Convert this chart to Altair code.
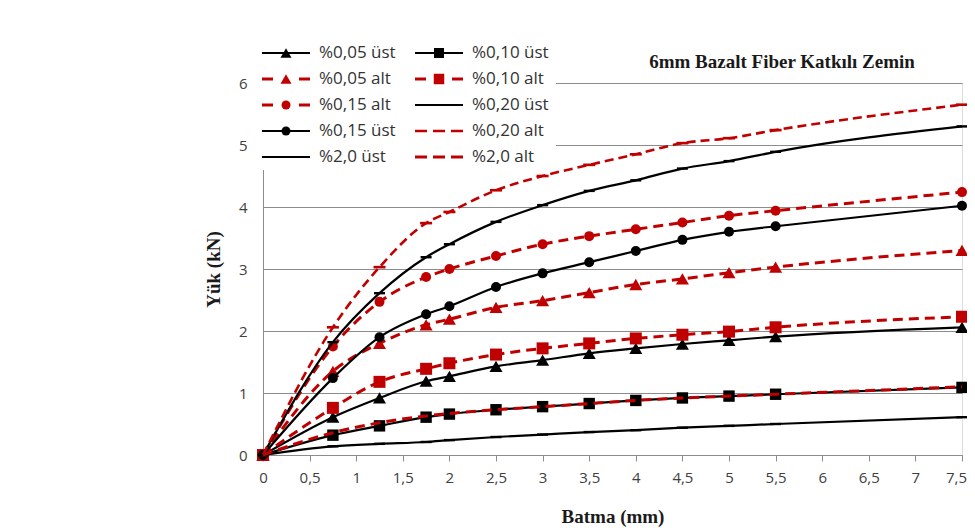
import altair as alt
import pandas as pd

# ---- data ----
x_batma = [0, 0.75, 1.25, 1.75, 2, 2.5, 3, 3.5, 4, 4.5, 5, 5.5, 7.5]

y_005_ust = [0, 0.61, 0.92, 1.19, 1.27, 1.43, 1.53, 1.64, 1.72, 1.79, 1.85, 1.91, 2.06]
y_010_ust = [0, 0.32, 0.47, 0.61, 0.66, 0.73, 0.78, 0.83, 0.88, 0.92, 0.95, 0.98, 1.09]
y_005_alt = [0, 1.35, 1.80, 2.10, 2.19, 2.38, 2.49, 2.62, 2.75, 2.84, 2.94, 3.03, 3.30]
y_010_alt = [0, 0.76, 1.18, 1.39, 1.48, 1.62, 1.72, 1.80, 1.88, 1.94, 1.99, 2.06, 2.23]
y_015_alt = [0, 1.75, 2.47, 2.87, 3.00, 3.21, 3.40, 3.53, 3.64, 3.75, 3.86, 3.94, 4.24]
y_020_ust = [0, 1.82, 2.61, 3.19, 3.40, 3.76, 4.03, 4.26, 4.43, 4.62, 4.74, 4.89, 5.30]
y_015_ust = [0, 1.24, 1.90, 2.27, 2.40, 2.71, 2.93, 3.11, 3.29, 3.47, 3.60, 3.69, 4.02]
y_020_alt = [0, 2.06, 3.03, 3.74, 3.92, 4.27, 4.50, 4.68, 4.85, 5.03, 5.11, 5.24, 5.65]
y_20_ust = [0, 0.14, 0.18, 0.21, 0.24, 0.29, 0.33, 0.37, 0.40, 0.44, 0.47, 0.50, 0.61]
y_20_alt = [0, 0.36, 0.52, 0.63, 0.67, 0.73, 0.78, 0.83, 0.88, 0.92, 0.95, 0.98, 1.10]

series_names = ["%0,05 üst", "%0,10 üst", "%0,05 alt", "%0,10 alt", "%0,15 alt",
                "%0,20 üst", "%0,15 üst", "%0,20 alt", "%2,0 üst", "%2,0 alt"]
series_values = [y_005_ust, y_010_ust, y_005_alt, y_010_alt, y_015_alt,
                 y_020_ust, y_015_ust, y_020_alt, y_20_ust, y_20_alt]

x_ticks = [0, 0.5, 1, 1.5, 2, 2.5, 3, 3.5, 4, 4.5, 5, 5.5, 6, 6.5, 7, 7.5]
y_ticks = [0, 1, 2, 3, 4, 5, 6]

title_text = "6mm Bazalt Fiber Katkılı Zemin"
x_title = "Batma (mm)"
y_title = "Yük (kN)"

# ---- styles ----
RED = "#c00000"
BLACK = "#000000"
DASHMARK = "M-1,-0.22H1V0.22H-1Z"
styles = {
    "%0,05 üst": dict(color=BLACK, dash=None, sw=2.2, shape="triangle-up", size=169, lsize=121),
    "%0,10 üst": dict(color=BLACK, dash=None, sw=2.2, shape="square", size=130, lsize=100),
    "%0,05 alt": dict(color=RED, dash=[10, 6], sw=3, shape="triangle-up", size=169, lsize=121),
    "%0,10 alt": dict(color=RED, dash=[10, 6], sw=3, shape="square", size=144, lsize=110),
    "%0,15 alt": dict(color=RED, dash=[10, 6], sw=3, shape="circle", size=100, lsize=81),
    "%0,20 üst": dict(color=BLACK, dash=None, sw=2.2, shape=DASHMARK, size=121, lsize=0),
    "%0,15 üst": dict(color=BLACK, dash=None, sw=2.2, shape="circle", size=100, lsize=81),
    "%0,20 alt": dict(color=RED, dash=[9, 5], sw=2.6, shape=DASHMARK, size=144, lsize=0),
    "%2,0 üst": dict(color=BLACK, dash=None, sw=2.2, shape=DASHMARK, size=121, lsize=0),
    "%2,0 alt": dict(color=RED, dash=[10, 6], sw=3, shape=None, size=0, lsize=0),
}

LABEL_FONT = "Open Sans"
SERIF = "Liberation Serif"
GRAY = "#8c8c8c"

X = alt.X("x:Q", scale=alt.Scale(domain=[0, 7.5], nice=False, zero=False),
          axis=alt.Axis(values=x_ticks,
                        labelExpr="replace(format(datum.value, '~g'), '.', ',')",
                        labelOffset={"condition": {"test": "datum.value >= 7.5", "value": -6},
                                     "value": 0},
                        grid=False, domainColor=GRAY, tickColor=GRAY, tickSize=6,
                        labelPadding=9, labelFont=LABEL_FONT, labelFontSize=15,
                        labelColor="#404040", labelFlush=False,
                        title=x_title, titleFont=SERIF, titleFontSize=19,
                        titleFontWeight="bold", titleColor="#1a1a1a",
                        titleX=349.5, titleY=61, titleBaseline="middle", zindex=0))
Y = alt.Y("y:Q", scale=alt.Scale(domain=[0, 6], nice=False),
          axis=alt.Axis(values=y_ticks, grid=True, gridColor=GRAY, gridWidth=1,
                        domainColor=GRAY, ticks=False, tickSize=0, labelPadding=16,
                        labelFont=LABEL_FONT, labelFontSize=15, labelColor="#404040",
                        title=y_title, titleFont=SERIF, titleFontSize=19,
                        titleFontWeight="bold", titleColor="#1a1a1a",
                        titleAngle=270, titleX=-50, titleY=186,
                        titleAlign="center", titleBaseline="middle", zindex=0))

layers = []

# legend background (covers gridlines behind legend box)
bg = pd.DataFrame({"k": [0]})
layers.append(alt.Chart(bg).mark_rect(color="white").encode(
    x=alt.value(-8), x2=alt.value(293), y=alt.value(-43), y2=alt.value(87)))

for name, vals in zip(series_names, series_values):
    st = styles[name]
    df = pd.DataFrame({"x": x_batma, "y": vals})
    line_kw = dict(color=st["color"], strokeWidth=st["sw"], interpolate="monotone")
    if st["dash"]:
        line_kw["strokeDash"] = st["dash"]
    layers.append(alt.Chart(df).mark_line(**line_kw).encode(x=X, y=Y))
    if st["shape"]:
        layers.append(alt.Chart(df).mark_point(
            shape=st["shape"], filled=True, size=st["size"], color=st["color"],
            opacity=1, strokeWidth=0).encode(x=X, y=Y))

# ---- legend (two columns, rows ordered as in reference) ----
col_layout = [
    ["%0,05 üst", "%0,05 alt", "%0,15 alt", "%0,15 üst", "%2,0 üst"],
    ["%0,10 üst", "%0,10 alt", "%0,20 üst", "%0,20 alt", "%2,0 alt"],
]
col_x0 = [-1, 152]
line_len = 48
row_y0, row_step = -30, 26
for ci, col in enumerate(col_layout):
    for ri, name in enumerate(col):
        st = styles[name]
        yy = row_y0 + ri * row_step
        x0 = col_x0[ci]
        one = pd.DataFrame({"label": [name]})
        rule_kw = dict(color=st["color"], strokeWidth=st["sw"])
        if st["dash"]:
            if st["lsize"] > 0:
                rule_kw["strokeDash"] = [11, 26]
            else:
                rule_kw["strokeDash"] = [12, 6]
        layers.append(alt.Chart(one).mark_rule(**rule_kw).encode(
            x=alt.value(x0), x2=alt.value(x0 + line_len), y=alt.value(yy)))
        if st["lsize"] > 0:
            layers.append(alt.Chart(one).mark_point(
                shape=st["shape"], filled=True, size=st["lsize"], color=st["color"],
                opacity=1, strokeWidth=0).encode(
                x=alt.value(x0 + line_len / 2), y=alt.value(yy)))
        layers.append(alt.Chart(one).mark_text(
            align="left", baseline="middle", font=LABEL_FONT, fontSize=17,
            color="#333333").encode(
            x=alt.value(x0 + line_len + 9), y=alt.value(yy), text="label:N"))

# chart title inside plot
tdf = pd.DataFrame({"t": [title_text]})
layers.append(alt.Chart(tdf).mark_text(
    align="center", baseline="middle", font=SERIF, fontSize=19,
    fontWeight="bold", color="#1a1a1a").encode(
    x=alt.value(519), y=alt.value(-21), text="t:N"))

chart = alt.layer(*layers).properties(
    width=699, height=372,
    padding={"left": 255, "top": 75, "right": 5, "bottom": 72},
    autosize=alt.AutoSizeParams(type="none"),
).configure_view(stroke=None).configure(background="white")

chart.save("out.html", embed_options={"renderer": "svg", "actions": False})
